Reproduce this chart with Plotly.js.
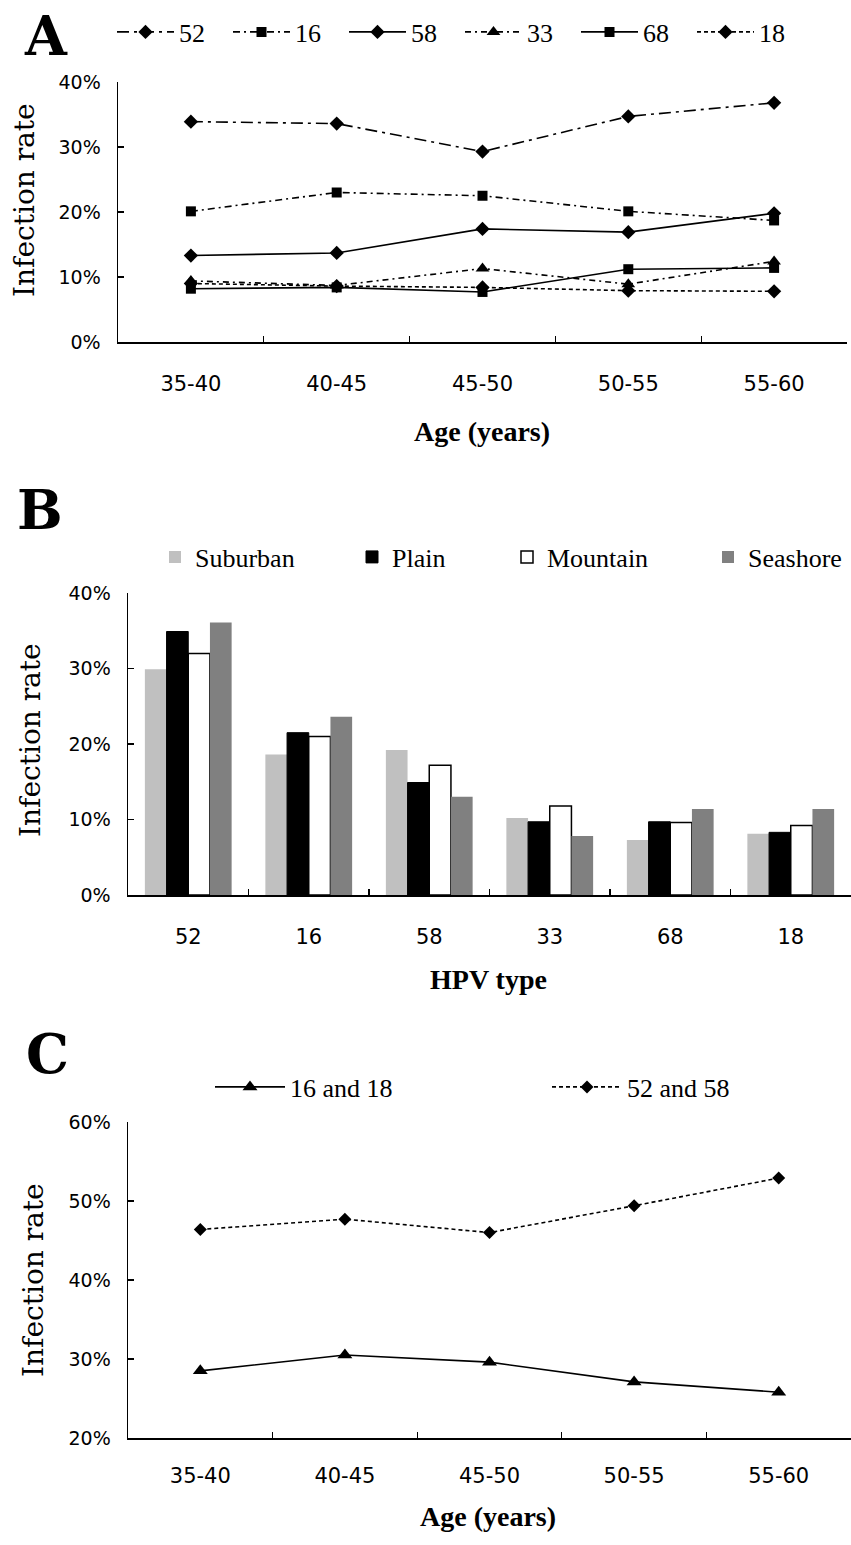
<!DOCTYPE html>
<html>
<head>
<meta charset="utf-8">
<script src="https://cdn.plot.ly/plotly-3.0.1.min.js"></script>
<style>html,body{margin:0;padding:0;background:#fff;}#chart{width:851px;height:1545px;}</style>
</head>
<body>
<div id="chart"></div>
<script>
// ---------- data ----------
const ageGroups = ['35-40', '40-45', '45-50', '50-55', '55-60'];

// Panel A: infection rate by age for each HPV type
const hpv52 = [0.339, 0.336, 0.293, 0.347, 0.368];
const hpv16 = [0.201, 0.230, 0.225, 0.201, 0.187];
const hpv58 = [0.133, 0.137, 0.174, 0.169, 0.198];
const hpv33 = [0.094, 0.087, 0.113, 0.089, 0.124];
const hpv68 = [0.082, 0.084, 0.077, 0.112, 0.114];
const hpv18 = [0.090, 0.086, 0.084, 0.079, 0.078];

// Panel B: infection rate by HPV type and region
const hpvTypes = ['52', '16', '58', '33', '68', '18'];
const suburban = [0.299, 0.186, 0.192, 0.102, 0.073, 0.081];
const plain    = [0.349, 0.215, 0.149, 0.097, 0.097, 0.083];
const mountain = [0.320, 0.210, 0.172, 0.118, 0.096, 0.092];
const seashore = [0.361, 0.236, 0.130, 0.078, 0.114, 0.114];

// Panel C: combined types by age
const hpv16and18 = [0.285, 0.305, 0.296, 0.271, 0.258];
const hpv52and58 = [0.464, 0.477, 0.460, 0.494, 0.529];

const yTicksA = [0, 0.1, 0.2, 0.3, 0.4];
const yTicksB = [0, 0.1, 0.2, 0.3, 0.4];
const yTicksC = [0.2, 0.3, 0.4, 0.5, 0.6];

// ---------- helpers ----------
const W = 851, H = 1545;
const px = v => v / W;
const py = v => 1 - v / H;

const tickFont = {family: 'DejaVu Sans, Liberation Sans, sans-serif', size: 19, color: '#000'};
const xTickFont = {family: 'DejaVu Sans, Liberation Sans, sans-serif', size: 21, color: '#000'};
const legFont = {family: 'Liberation Serif, DejaVu Serif, serif', size: 26, color: '#000'};
const titleFont = {family: 'Liberation Serif, DejaVu Serif, serif', size: 28, color: '#000', weight: 'bold'};
const yTitleFont = {family: 'DejaVu Serif, Liberation Serif, serif', size: 28, color: '#000'};
const letterFont = {family: 'DejaVu Serif, Liberation Serif, serif', size: 54, color: '#000', weight: 'bold'};

function lineTrace(name, y, dash, symbol, size, xa, ya, legend) {
  return {
    type: 'scatter', mode: 'lines+markers', name: name,
    x: ageGroups, y: y, xaxis: xa, yaxis: ya, legend: legend,
    line: {color: '#000', width: 1.6, dash: dash},
    marker: {color: '#000', symbol: symbol, size: size},
    cliponaxis: false
  };
}

function barTrace(name, y, fill, lineW, legend) {
  return {type: 'bar', name: name, x: hpvTypes, y: y, xaxis: 'x2', yaxis: 'y2', legend: legend,
          marker: {color: fill, line: {color: '#000', width: lineW}}};
}

const traces = [
  lineTrace('52', hpv52, '12px,5px,3px,5px', 'diamond', 11, 'x', 'y', 'legend'),
  lineTrace('16', hpv16, '7px,4px,2px,4px', 'square', 10, 'x', 'y', 'legend'),
  lineTrace('58', hpv58, 'solid', 'diamond', 11, 'x', 'y', 'legend'),
  lineTrace('33', hpv33, '6px,4px,2px,4px', 'triangle-up', 12, 'x', 'y', 'legend'),
  lineTrace('68', hpv68, 'solid', 'square', 10, 'x', 'y', 'legend'),
  lineTrace('18', hpv18, '4px,3px', 'diamond', 11, 'x', 'y', 'legend'),

  barTrace('Suburban', suburban, '#c0c0c0', 0, 'legend2'),
  barTrace('Plain', plain, '#000000', 1, 'legend4'),
  barTrace('Mountain', mountain, '#ffffff', 1.5, 'legend5'),
  barTrace('Seashore', seashore, '#808080', 0, 'legend6'),

  lineTrace('16 and 18', hpv16and18, 'solid', 'triangle-up', 13, 'x3', 'y3', 'legend3'),
  lineTrace('52 and 58', hpv52and58, '4px,3px', 'diamond', 10, 'x3', 'y3', 'legend3')
];

function xAxis(domain, anchor, range, standoff) {
  return {
    domain: domain, anchor: anchor, type: 'category', range: range,
    showline: true, linecolor: '#000', linewidth: 1.5, mirror: false,
    ticks: 'inside', ticklen: 6, tickwidth: 1.2, tickcolor: '#000',
    tickson: 'boundaries', showgrid: false, zeroline: false,
    tickfont: xTickFont, ticklabelstandoff: standoff, fixedrange: true, automargin: false
  };
}
function yAxis(domain, anchor, range, vals) {
  return {
    domain: domain, anchor: anchor, range: range,
    tickvals: vals, tickformat: '.0%',
    showline: true, linecolor: '#000', linewidth: 1.5,
    ticks: 'inside', ticklen: 6, tickwidth: 1.2, tickcolor: '#000',
    showgrid: false, zeroline: false, tickfont: tickFont, ticklabelstandoff: 12,
    fixedrange: true, automargin: false
  };
}
function oneLegend(xPix, yPix, itemwidth, entrywidth) {
  return {orientation: 'h', x: px(xPix), y: py(yPix), xanchor: 'left', yanchor: 'middle',
          font: legFont, itemwidth: itemwidth, entrywidth: entrywidth, entrywidthmode: 'pixels',
          bgcolor: 'rgba(0,0,0,0)', traceorder: 'normal'};
}

const layout = {
  width: W, height: H,
  margin: {l: 0, r: 0, t: 0, b: 0, autoexpand: false},
  paper_bgcolor: '#fff', plot_bgcolor: '#fff',
  showlegend: true,
  barmode: 'group', bargap: 0.28, bargroupgap: 0,
  xaxis: xAxis([px(118), px(847)], 'y', [-0.5, 4.5], 22),
  yaxis: yAxis([py(342), py(82)], 'x', [0, 0.4], yTicksA),
  xaxis2: xAxis([px(128), 1], 'y2', [-0.5, 5.5], 22),
  yaxis2: yAxis([py(895), py(593)], 'x2', [0, 0.4], yTicksB),
  xaxis3: xAxis([px(128), 1], 'y3', [-0.5, 4.5], 18),
  yaxis3: yAxis([py(1438), py(1122)], 'x3', [0.2, 0.6], yTicksC),
  legend:  oneLegend(112, 32, 57, 44),
  legend2: oneLegend(155, 557, 30, 110),
  legend4: oneLegend(352, 557, 30, 80),
  legend5: oneLegend(507, 557, 30, 130),
  legend6: oneLegend(708, 557, 30, 110),
  legend3: oneLegend(210, 1087, 70, 252),
  annotations: [
    {text: 'A', x: px(46), y: py(36), xref: 'paper', yref: 'paper', showarrow: false, font: letterFont, xanchor: 'center', yanchor: 'middle'},
    {text: 'B', x: px(40), y: py(510), xref: 'paper', yref: 'paper', showarrow: false, font: letterFont, xanchor: 'center', yanchor: 'middle'},
    {text: 'C', x: px(47), y: py(1054), xref: 'paper', yref: 'paper', showarrow: false, font: letterFont, xanchor: 'center', yanchor: 'middle'},

    {text: 'Age (years)', x: px(482), y: py(431), xref: 'paper', yref: 'paper', showarrow: false, font: titleFont, xanchor: 'center', yanchor: 'middle'},
    {text: 'HPV type', x: px(488), y: py(979), xref: 'paper', yref: 'paper', showarrow: false, font: titleFont, xanchor: 'center', yanchor: 'middle'},
    {text: 'Age (years)', x: px(488), y: py(1516), xref: 'paper', yref: 'paper', showarrow: false, font: titleFont, xanchor: 'center', yanchor: 'middle'},

    {text: 'Infection rate', x: px(24), y: py(200), xref: 'paper', yref: 'paper', showarrow: false, font: yTitleFont, textangle: -90, xanchor: 'center', yanchor: 'middle'},
    {text: 'Infection rate', x: px(30), y: py(740), xref: 'paper', yref: 'paper', showarrow: false, font: yTitleFont, textangle: -90, xanchor: 'center', yanchor: 'middle'},
    {text: 'Infection rate', x: px(33), y: py(1280), xref: 'paper', yref: 'paper', showarrow: false, font: yTitleFont, textangle: -90, xanchor: 'center', yanchor: 'middle'}
  ]
};

Plotly.newPlot('chart', traces, layout, {displayModeBar: false, staticPlot: true});
</script>
</body>
</html>
